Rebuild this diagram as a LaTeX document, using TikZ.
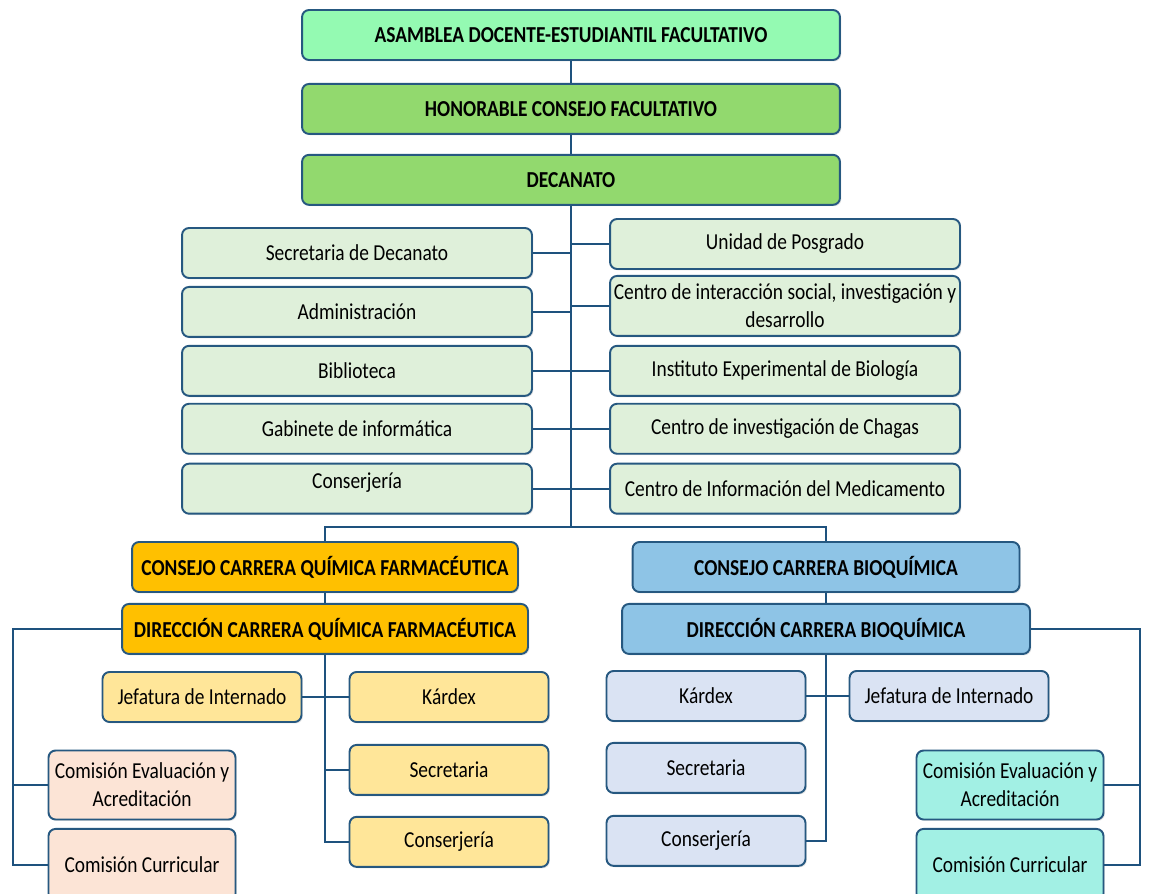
\documentclass[tikz,border=0pt]{standalone}
\usepackage{fontspec}
\setmainfont{Carlito}[FakeStretch=0.85]
\usetikzlibrary{positioning, shadows}

\definecolor{edgeblue}{RGB}{38,88,128}
\definecolor{lineblue}{RGB}{30,82,126}
\definecolor{mint}{RGB}{148,250,178}
\definecolor{leaf}{RGB}{146,217,110}
\definecolor{pale}{RGB}{223,240,218}
\definecolor{gold}{RGB}{255,192,0}
\definecolor{sand}{RGB}{255,230,153}
\definecolor{peach}{RGB}{252,228,214}
\definecolor{sky}{RGB}{142,196,230}
\definecolor{mist}{RGB}{218,227,243}
\definecolor{aqua}{RGB}{162,240,228}

\begin{document}
\begin{tikzpicture}[
    x=0.02cm, y=-0.02cm,
    node distance=0.14cm,
    box/.style={rectangle, draw=edgeblue, line width=1.1pt, rounded corners=4pt, align=center, inner sep=1pt,
      drop shadow={opacity=0.2, shadow xshift=0.8pt, shadow yshift=-0.8pt}, font=\fontsize{13}{16}\selectfont},
    head/.style={box, minimum width=10.76cm, minimum height=1cm, font=\fontsize{13}{16}\selectfont\bfseries},
    unit/.style={box, fill=pale, minimum width=7cm, minimum height=1cm},
    career/.style={box, minimum height=1cm, font=\fontsize{13}{16}\selectfont\bfseries},
    office/.style={box, minimum width=3.98cm, minimum height=1cm},
    comision/.style={box, minimum width=3.74cm, minimum height=1.38cm},
    link/.style={draw=lineblue, line width=1.1pt},
]
\path[use as bounding box, fill=white] (0,0) rectangle (1149,893);

% facultad
\node[head, fill=mint] (asamblea) at (571,35) {ASAMBLEA DOCENTE-ESTUDIANTIL FACULTATIVO};
\node[head, fill=leaf, below=0.44cm of asamblea] (honorable) {HONORABLE CONSEJO FACULTATIVO};
\node[head, fill=leaf, below=0.38cm of honorable] (decanato) {DECANATO};

% unidades del decanato
\node[unit] (secdec) at (357,253) {Secretaria de Decanato};
\node[unit, below=of secdec] (admin) {Administración};
\node[unit, below=of admin] (biblio) {Biblioteca};
\node[unit, below=0.12cm of biblio] (gabinete) {Gabinete de informática};
\node[unit, below=0.16cm of gabinete, text depth=0.33cm] (conser) {Conserjería};

\node[unit] (posgrado) at (785,244) {Unidad de Posgrado};
\node[unit, below=0.1cm of posgrado, minimum height=1.2cm] (interaccion) {Centro de interacción social, investigación y\\desarrollo};
\node[unit, below=0.16cm of interaccion] (instituto) {Instituto Experimental de Biología};
\node[unit, below=0.12cm of instituto] (chagas) {Centro de investigación de Chagas};
\node[unit, below=0.16cm of chagas] (medicamento) {Centro de Información del Medicamento};

\coordinate (bus) at (571,527);

% carreras
\node[career, fill=gold, minimum width=7.72cm] (cqf) at (325,567) {CONSEJO CARRERA QUÍMICA FARMACÉUTICA};
\node[career, fill=gold, minimum width=8.12cm, below=0.2cm of cqf] (dqf) {DIRECCIÓN CARRERA QUÍMICA FARMACÉUTICA};
\node[career, fill=sky, minimum width=7.74cm] (cbq) at (826,567) {CONSEJO CARRERA BIOQUÍMICA};
\node[career, fill=sky, minimum width=8.16cm, below=0.2cm of cbq] (dbq) {DIRECCIÓN CARRERA BIOQUÍMICA};

% química farmacéutica
\node[office, fill=sand] (jqf) at (202,697) {Jefatura de Internado};
\node[office, fill=sand] (kqf) at (449,697) {Kárdex};
\node[office, fill=sand, below=0.42cm of kqf] (sqf) {Secretaria};
\node[office, fill=sand, below=0.4cm of sqf] (oqf) {Conserjería};
\node[comision, fill=peach] (ceq) at (142,785) {Comisión Evaluación y\\Acreditación};
\node[comision, fill=peach, below=0.15cm of ceq, minimum height=1.44cm] (ccq) {Comisión Curricular};

% bioquímica
\node[office, fill=mist] (kbq) at (706,696) {Kárdex};
\node[office, fill=mist] (jbq) at (949,696) {Jefatura de Internado};
\node[office, fill=mist, below=0.4cm of kbq] (sbq) {Secretaria};
\node[office, fill=mist, below=0.42cm of sbq] (obq) {Conserjería};
\node[comision, fill=aqua] (ceb) at (1010,785) {Comisión Evaluación y\\Acreditación};
\node[comision, fill=aqua, below=0.15cm of ceb, minimum height=1.44cm] (ccb) {Comisión Curricular};

% lineas
\draw[link] (asamblea) -- (honorable);
\draw[link] (honorable) -- (decanato);
\draw[link] (decanato) -- (bus);
\draw[link] (cqf.north) |- (bus) -| (cbq.north);
\foreach \n in {secdec, admin, biblio, gabinete, conser}
  \draw[link] (\n.east) -- (\n.east -| decanato.south);
\foreach \n in {posgrado, interaccion, instituto, chagas, medicamento}
  \draw[link] (\n.west) -- (\n.west -| decanato.south);

\draw[link] (cqf) -- (dqf);
\draw[link] (dqf.south) |- (oqf.west);
\draw[link] (jqf) -- (kqf);
\draw[link] (sqf.west) -- (sqf.west -| dqf.south);
\coordinate[left=2.16cm of dqf.west] (qfside);
\draw[link] (dqf.west) -- (qfside) |- (ccq.west);
\draw[link] (ceq.west) -- (ceq.west -| qfside);

\draw[link] (cbq) -- (dbq);
\draw[link] (dbq.south) |- (obq.east);
\draw[link] (kbq) -- (jbq);
\coordinate[right=2.18cm of dbq.east] (bqside);
\draw[link] (dbq.east) -- (bqside) |- (ccb.east);
\draw[link] (ceb.east) -- (ceb.east -| bqside);

\end{tikzpicture}
\end{document}
